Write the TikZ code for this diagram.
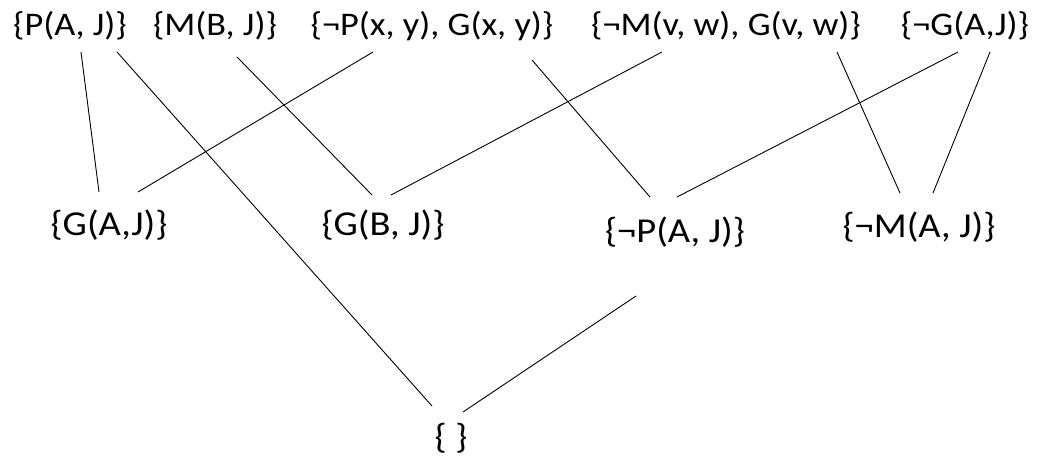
\documentclass[tikz,border=0pt]{standalone}
\usepackage{fontspec}
\setmainfont{Carlito}[FakeStretch=1.1]
\usetikzlibrary{calc}
\begin{document}
\begin{tikzpicture}[
  top/.style={inner sep=0pt, anchor=base, font=\fontsize{33}{40}\selectfont},
  mid/.style={inner sep=0pt, anchor=base, font=\fontsize{35}{42}\selectfont},
  edge/.style={line width=0.9pt, black}
]
\useasboundingbox (0pt,0pt) rectangle (1040pt,-455pt);
% top row
\node[top] (pa) at (70pt,-35pt) {\{P(A, J)\}};
\node[top] (mb) at (215pt,-35pt) {\{M(B, J)\}};
\node[top] (px) at (432pt,-35pt) {\{¬P(x, y), G(x, y)\}};
\node[top] (mv) at (726pt,-35pt) {\{¬M(v, w), G(v, w)\}};
\node[top] (ng) at (965pt,-35pt) {\{¬G(A,J)\}};
% middle row
\node[mid] (gaj) at (109pt,-235pt) {\{G(A,J)\}};
\node[mid] (gbj) at (383pt,-235pt) {\{G(B, J)\}};
\node[mid] (npa) at (675pt,-242pt) {\{¬P(A, J)\}};
\node[mid] (nma) at (919pt,-237pt) {\{¬M(A, J)\}};
% bottom
\node[mid] (empty) at (451pt,-448pt) {\{ \}};
% connectors
\draw[edge] ([shift={(11pt,-17pt)}]pa.base) -- ([shift={(-10pt,43pt)}]gaj.base);
\draw[edge] ([shift={(47pt,-17pt)}]pa.base) -- ([shift={(-19pt,42pt)}]empty.base);
\draw[edge] ([shift={(22pt,-22pt)}]mb.base) -- ([shift={(-11pt,40pt)}]gbj.base);
\draw[edge] ([shift={(-59pt,-17pt)}]px.base) -- ([shift={(29pt,43pt)}]gaj.base);
\draw[edge] ([shift={(100pt,-25pt)}]px.base) -- ([shift={(-25pt,45pt)}]npa.base);
\draw[edge] ([shift={(-64pt,-17pt)}]mv.base) -- ([shift={(8pt,40pt)}]gbj.base);
\draw[edge] ([shift={(111pt,-17pt)}]mv.base) -- ([shift={(-19pt,44pt)}]nma.base);
\draw[edge] ([shift={(-7pt,-17pt)}]ng.base) -- ([shift={(2pt,45pt)}]npa.base);
\draw[edge] ([shift={(25pt,-17pt)}]ng.base) -- ([shift={(14pt,44pt)}]nma.base);
\draw[edge] ([shift={(-39pt,-54pt)}]npa.base) -- ([shift={(12pt,36pt)}]empty.base);
\end{tikzpicture}
\end{document}
